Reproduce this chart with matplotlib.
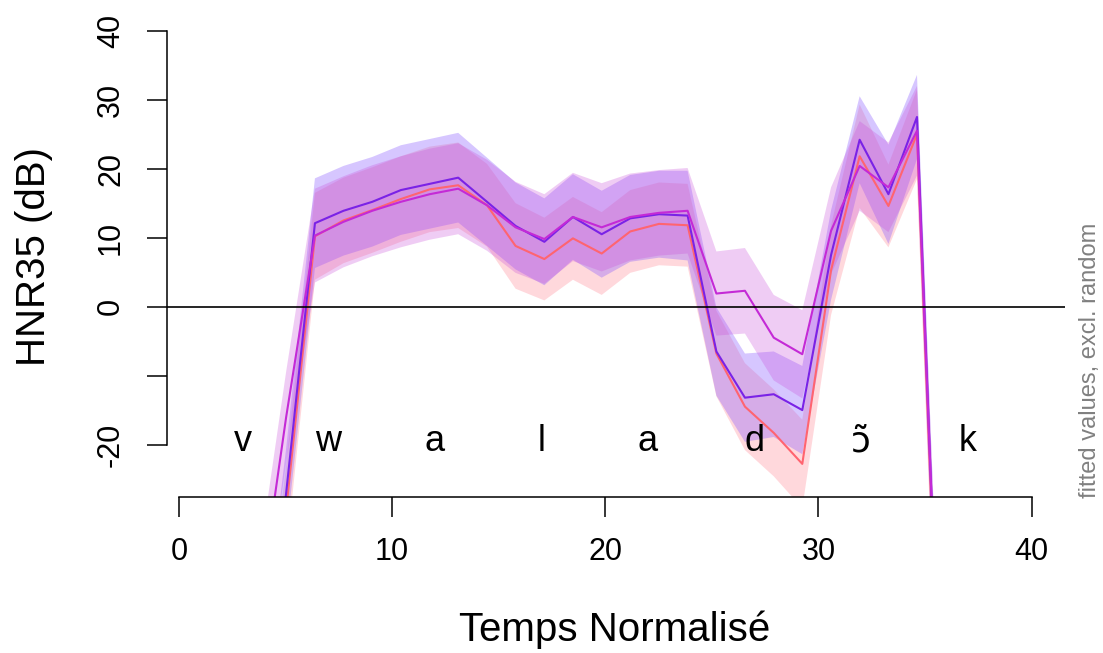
import matplotlib
matplotlib.use("Agg")
import matplotlib.pyplot as plt

plt.rcParams['font.family'] = ['Liberation Sans', 'DejaVu Sans']

# ---- data ----
time = [1.0, 2.34, 3.69, 5.03, 6.38, 7.72, 9.07, 10.41, 11.76, 13.10,
        14.45, 15.79, 17.14, 18.48, 19.83, 21.17, 22.52, 23.86, 25.21, 26.55,
        27.90, 29.24, 30.59, 31.93, 33.28, 34.62, 35.97, 37.31, 38.66, 40.0]

fit_violet = [-110, -90, -62, -27, 12.1, 13.9, 15.2, 16.9, 17.8, 18.7,
              15.2, 11.7, 9.4, 13.0, 10.5, 12.8, 13.4, 13.2, -6.5, -13.2,
              -12.7, -15.0, 7.5, 24.2, 16.3, 27.5, -82, -100, -105, -110]
fit_magenta = [-100, -75, -45, -16, 10.3, 12.3, 13.9, 15.2, 16.3, 17.1,
               14.7, 11.5, 9.8, 13.0, 11.5, 13.0, 13.6, 13.9, 1.9, 2.3,
               -4.5, -6.9, 11.0, 20.4, 17.3, 25.5, -80, -95, -100, -105]
fit_red = [-115, -95, -65, -29.5, 10.2, 12.5, 14.0, 15.6, 17.0, 17.6,
           14.7, 8.8, 6.9, 9.9, 7.7, 10.9, 12.0, 11.8, -6.8, -14.5,
           -18.3, -22.8, 5.3, 21.8, 14.6, 25.0, -83, -100, -105, -110]

ci_violet = [8, 8, 7, 6.5, 6.5, 6.5, 6.5, 6.5, 6.5, 6.5,
             6.4, 6.3, 6.3, 6.2, 6.3, 6.3, 6.3, 6.5, 6.4, 6.4,
             6.2, 6.4, 6.5, 6.3, 7.2, 6.1, 7, 8, 8, 8]
ci_magenta = [8, 8, 7, 6.6, 6.8, 6.6, 6.6, 6.6, 6.6, 6.6,
              6.6, 6.6, 6.5, 6.4, 6.4, 6.3, 6.2, 6.2, 6.1, 6.2,
              6.2, 6.4, 6.3, 6.5, 6.5, 6.5, 7, 8, 8, 8]
ci_red = [8, 8, 7, 6.5, 6.3, 6.2, 6.2, 6.2, 6.2, 6.2,
          6.0, 6.2, 6.0, 6.0, 6.0, 6.0, 6.0, 6.0, 6.2, 6.3,
          6.3, 6.4, 6.5, 7.5, 6.0, 6.5, 7, 8, 8, 8]

phonemes = ['v', 'w', 'a', 'l', 'a', 'd', 'ɔ̃', 'k']
phoneme_pos = [3, 7, 12, 17, 22, 27, 32, 37]

xticks = [0, 10, 20, 30, 40]
yticks = [-20, -10, 0, 10, 20, 30, 40]
yticklabels = ['-20', '', '0', '10', '20', '30', '40']

col_violet = '#7A22E6'
col_magenta = '#C42AD6'
col_red = '#FF6470'
fill_violet = '#8A5CFF'
fill_magenta = '#C84AD8'
fill_red = '#FF7080'

# ---- figure ----
fig = plt.figure(figsize=(11.03, 6.53), dpi=100)
ax = fig.add_axes([0.1514, 0.2389, 0.8141, 0.7309])

bands = [
    (fit_red, ci_red, fill_red, 0.27),
    (fit_violet, ci_violet, fill_violet, 0.35),
    (fit_magenta, ci_magenta, fill_magenta, 0.28),
]
for fit, ci, col, a in bands:
    lo = [f - c for f, c in zip(fit, ci)]
    hi = [f + c for f, c in zip(fit, ci)]
    ax.fill_between(time, lo, hi, color=col, alpha=a, linewidth=0)
for fit, col in [(fit_red, col_red), (fit_violet, col_violet), (fit_magenta, col_magenta)]:
    ax.plot(time, fit, color=col, lw=1.5)

ax.axhline(0, color='black', lw=1.2)

for lab, xp in zip(phonemes, phoneme_pos):
    ax.text(xp, -21, lab, ha='center', va='baseline', fontsize=26,
            family=['DejaVu Sans'] if lab == 'ɔ̃' else ['Liberation Sans', 'DejaVu Sans'])

ax.set_xlim(-0.56, 41.56)
ax.set_ylim(-27.6, 41.6)

for s in ['top', 'right']:
    ax.spines[s].set_visible(False)
ax.spines['left'].set_bounds(-20, 40)
ax.spines['bottom'].set_bounds(0, 40)
ax.spines['left'].set_linewidth(1.1)
ax.spines['bottom'].set_linewidth(1.1)

ax.set_xticks(xticks)
ax.set_xticklabels([str(v) for v in xticks])
ax.set_yticks(yticks)
ax.set_yticklabels(yticklabels)
ax.tick_params(axis='both', length=14.5, width=1.1, direction='out', labelsize=22)
ax.tick_params(axis='x', pad=14.5)
ax.tick_params(axis='y', pad=15)
for t in ax.get_yticklabels():
    t.set_rotation(90)
    t.set_va('center')

fig.text(34 / 1103, 1 - 256 / 653, 'HNR35 (dB)', rotation=90, ha='center', va='center', fontsize=29)
fig.text(615 / 1103, 1 - 630 / 653, 'Temps Normalisé', ha='center', va='center', fontsize=29)
fig.text(1090 / 1103, 1 - 498 / 653, 'fitted values, excl. random', rotation=90,
         ha='center', va='bottom', fontsize=17, color='#808080')

fig.savefig('out.png', dpi=100)
